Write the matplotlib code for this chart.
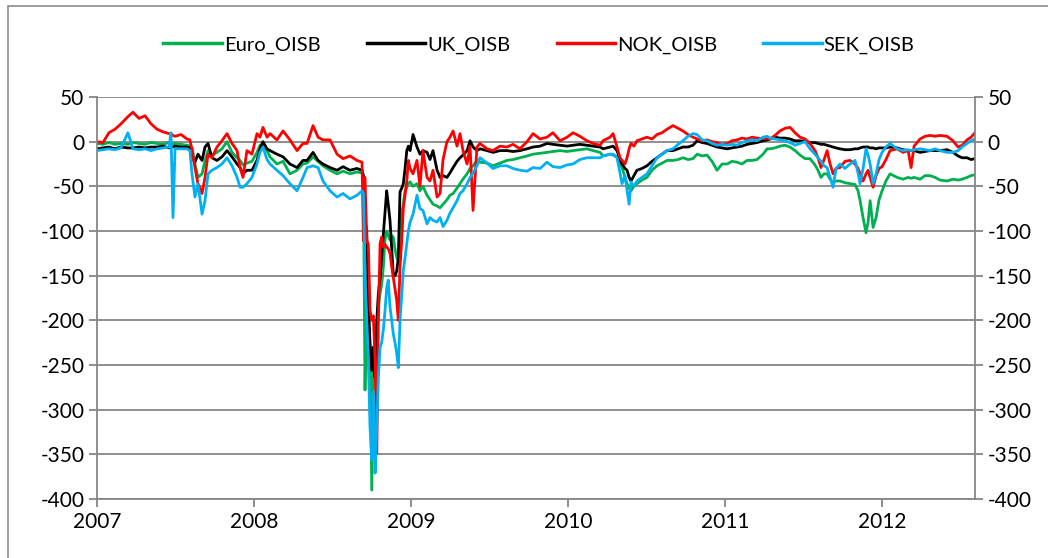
import matplotlib
matplotlib.use("Agg")
import matplotlib.pyplot as plt
from matplotlib.patches import Rectangle

# ---------------- data (fractional years, basis points) ----------------
dates = [
    2007.000, 2007.038, 2007.076, 2007.115, 2007.153, 2007.197, 2007.229, 2007.268, 2007.306, 2007.344,
    2007.382, 2007.420, 2007.459, 2007.471, 2007.484, 2007.497, 2007.535, 2007.573, 2007.592, 2007.605,
    2007.624, 2007.643, 2007.669, 2007.688, 2007.707, 2007.732, 2007.764, 2007.796, 2007.828, 2007.860,
    2007.892, 2007.911, 2007.930, 2007.955, 2007.987, 2008.019, 2008.038, 2008.057, 2008.083, 2008.102,
    2008.146, 2008.185, 2008.229, 2008.274, 2008.312, 2008.338, 2008.376, 2008.408, 2008.439, 2008.484,
    2008.529, 2008.567, 2008.611, 2008.656, 2008.688, 2008.697, 2008.707, 2008.718, 2008.728, 2008.739,
    2008.750, 2008.760, 2008.771, 2008.782, 2008.792, 2008.803, 2008.813, 2008.824, 2008.834, 2008.845,
    2008.855, 2008.866, 2008.877, 2008.887, 2008.898, 2008.909, 2008.919, 2008.930, 2008.941, 2008.951,
    2008.962, 2008.973, 2008.983, 2008.994, 2009.013, 2009.038, 2009.057, 2009.076, 2009.102, 2009.121,
    2009.140, 2009.166, 2009.185, 2009.204, 2009.229, 2009.248, 2009.268, 2009.293, 2009.312, 2009.331,
    2009.357, 2009.376, 2009.395, 2009.420, 2009.439, 2009.484, 2009.522, 2009.567, 2009.611, 2009.650,
    2009.694, 2009.739, 2009.777, 2009.822, 2009.866, 2009.904, 2009.949, 2009.994, 2010.032, 2010.076,
    2010.121, 2010.159, 2010.204, 2010.223, 2010.268, 2010.287, 2010.312, 2010.331, 2010.344, 2010.363,
    2010.376, 2010.389, 2010.401, 2010.420, 2010.439, 2010.471, 2010.503, 2010.535, 2010.567, 2010.599,
    2010.631, 2010.669, 2010.701, 2010.732, 2010.764, 2010.796, 2010.822, 2010.854, 2010.885, 2010.917,
    2010.949, 2010.981, 2011.013, 2011.045, 2011.076, 2011.108, 2011.140, 2011.172, 2011.204, 2011.242,
    2011.268, 2011.287, 2011.318, 2011.350, 2011.382, 2011.414, 2011.446, 2011.478, 2011.510, 2011.541,
    2011.573, 2011.592, 2011.611, 2011.631, 2011.650, 2011.669, 2011.688, 2011.707, 2011.732, 2011.764,
    2011.796, 2011.828, 2011.847, 2011.860, 2011.879, 2011.898, 2011.911, 2011.924, 2011.943, 2011.962,
    2011.981, 2012.000, 2012.025, 2012.051, 2012.096, 2012.134, 2012.166, 2012.185, 2012.204, 2012.242,
    2012.274, 2012.306, 2012.338, 2012.369, 2012.414, 2012.452, 2012.484, 2012.510, 2012.541, 2012.567,
    2012.592,
]

euro_oisb = [
    -2, -3, -1, -3, -2, -3, -1, -2, -3, -1,
    -2, -3, -1, -3, -3, -2, -3, -4, -5, -6,
    -25, -40, -36, -21, -10, -15, -12, -8, 0, -12,
    -18, -21, -26, -24, -22, -12, -4, -3, -10, -17,
    -25, -22, -36, -32, -25, -24, -17, -22, -27, -32,
    -36, -33, -36, -34, -35, -40, -278, -150, -200, -230,
    -390, -250, -260, -220, -186, -170, -160, -140, -110, -100,
    -105, -110, -105, -107, -120, -130, -133, -110, -80, -70,
    -55, -51, -47, -45, -50, -47, -55, -50, -60, -65,
    -70, -72, -74, -70, -65, -60, -58, -52, -47, -42,
    -36, -30, -27, -21, -23, -24, -27, -24, -21, -20,
    -18, -16, -14, -13, -12, -11, -10, -11, -10, -9,
    -8, -10, -12, -16, -14, -15, -17, -25, -29, -40,
    -47, -52, -55, -50, -47, -43, -40, -32, -27, -24,
    -21, -21, -20, -18, -20, -19, -14, -16, -15, -22,
    -32, -25, -25, -22, -23, -25, -21, -21, -20, -14,
    -8, -8, -7, -5, -4, -6, -10, -15, -19, -19,
    -26, -32, -40, -36, -36, -42, -46, -44, -44, -46,
    -47, -48, -55, -66, -85, -102, -90, -66, -96, -85,
    -65, -55, -44, -36, -40, -42, -40, -41, -40, -42,
    -38, -38, -40, -43, -44, -42, -43, -42, -40, -38,
    -37,
]

uk_oisb = [
    -8, -7, -6, -8, -6, -7, -7, -6, -7, -6,
    -6, -5, -7, -6, -6, -5, -6, -6, -7, -18,
    -23, -14, -21, -6, -2, -18, -21, -17, -10, -17,
    -25, -29, -36, -32, -32, -21, -8, 0, -8, -10,
    -14, -17, -25, -29, -21, -21, -12, -21, -25, -29,
    -32, -28, -32, -30, -32, -38, -88, -100, -178, -226,
    -256, -230, -264, -200, -170, -152, -128, -103, -80, -55,
    -70, -88, -120, -148, -150, -145, -130, -56, -52, -47,
    -30, -10, -5, -10, 8, -6, -14, -10, -12, -20,
    -10, -32, -40, -38, -40, -35, -29, -22, -18, -15,
    -10, 1, -6, -10, -8, -10, -12, -10, -10, -11,
    -10, -8, -6, -5, -2, -3, -4, -5, -4, -3,
    -4, -5, -6, -8, -6, -5, -10, -20, -25, -30,
    -32, -40, -44, -38, -32, -30, -27, -22, -18, -14,
    -10, -10, -8, -6, -6, -4, 1, -1, -2, -4,
    -6, -7, -8, -7, -6, -5, -3, -2, -1, 1,
    2, 3, 5, 4, 4, 3, 1, 1, 0, -1,
    -1, -2, -3, -3, -4, -5, -6, -7, -8, -9,
    -9, -8, -8, -7, -6, -6, -6, -7, -7, -8,
    -7, -7, -7, -6, -7, -9, -10, -10, -10, -12,
    -11, -10, -10, -10, -9, -12, -16, -18, -18, -20,
    -19,
]

nok_oisb = [
    0, -1, 10, 14, 20, 28, 33, 26, 29, 20,
    14, 11, 9, 9, 7, 6, 8, 3, 2, -10,
    -29, -47, -58, -40, -14, -18, -6, 1, 9, -2,
    -10, -29, -40, -10, -14, 9, 5, 16, 5, 9,
    2, 12, 2, -10, -2, -2, 18, 5, 2, 2,
    -14, -19, -16, -21, -23, -111, -40, -111, -115, -189,
    -200, -195, -245, -349, -200, -114, -107, -118, -115, -118,
    -120, -125, -140, -152, -165, -178, -200, -140, -110, -74,
    -60, -44, -21, -30, -36, -21, -50, -10, -40, -44,
    -32, -62, -58, -20, 0, 5, 12, -5, 9, -10,
    -25, -5, -77, -6, -2, -8, -10, -5, -6, -3,
    -8, 0, 9, 3, 5, 10, 1, 5, 10, 6,
    1, -2, -4, 1, 5, 9, -6, -18, -21, -25,
    -18, -8, -2, -5, 1, 3, 5, 3, 8, 10,
    14, 18, 15, 12, 8, 5, 3, 1, 2, 0,
    -1, -3, -2, 1, 2, 4, 3, 5, 4, 3,
    4, 3, 7, 12, 15, 16, 10, 5, 3, -2,
    -10, -18, -29, -20, -10, -25, -36, -30, -29, -22,
    -21, -25, -30, -36, -44, -36, -32, -40, -51, -38,
    -30, -28, -20, -10, -8, -12, -10, -29, -5, 3,
    6, 7, 6, 7, 6, 1, -6, -4, 2, 5,
    10,
]

sek_oisb = [
    -10, -9, -8, -9, -7, 10, -8, -9, -8, -10,
    -8, -7, -6, 10, -85, -8, -8, -8, -10, -36,
    -62, -47, -81, -66, -36, -32, -29, -25, -18, -27,
    -40, -51, -51, -47, -40, -25, -12, -6, -20, -25,
    -32, -38, -47, -55, -40, -29, -27, -29, -44, -55,
    -62, -58, -64, -60, -55, -58, -149, -200, -245, -320,
    -356, -280, -371, -320, -264, -230, -225, -210, -190, -164,
    -155, -185, -200, -215, -225, -237, -253, -200, -170, -144,
    -130, -114, -100, -90, -81, -60, -75, -77, -92, -85,
    -88, -90, -85, -95, -88, -80, -74, -66, -58, -55,
    -47, -40, -35, -27, -18, -24, -30, -27, -27, -30,
    -32, -33, -29, -30, -23, -28, -29, -26, -25, -20,
    -18, -18, -18, -16, -14, -14, -18, -35, -47, -38,
    -55, -70, -45, -50, -44, -40, -36, -27, -18, -14,
    -10, -8, -3, 1, 6, 9, 8, 2, 1, -2,
    -4, -3, -4, -3, -4, -1, 1, 2, 1, 5,
    6, 4, 3, 2, 1, -1, -4, -2, 0, -8,
    -14, -18, -22, -27, -29, -40, -51, -30, -25, -30,
    -25, -21, -35, -47, -30, -8, -15, -25, -47, -36,
    -20, -12, -6, -2, -8, -10, -9, -10, -9, -8,
    -9, -10, -8, -10, -12, -12, -10, -6, -2, 1,
    3,
]

series_names = ["Euro_OISB", "UK_OISB", "NOK_OISB", "SEK_OISB"]
series_values = [euro_oisb, uk_oisb, nok_oisb, sek_oisb]
series_colors = ["#00B050", "#000000", "#FF0000", "#00B0F0"]

year_ticks = [2007, 2008, 2009, 2010, 2011, 2012]
y_ticks = [50, 0, -50, -100, -150, -200, -250, -300, -350, -400]

# ---------------- figure ----------------
plt.rcParams['font.family'] = ['Lato', 'DejaVu Sans']
fig = plt.figure(figsize=(10.48, 5.58), dpi=100)
fig.patch.set_facecolor("white")
fig.add_artist(Rectangle((8 / 1048, -0.01), 1.2, 1 - 6 / 558 + 0.01, transform=fig.transFigure,
                         fill=False, edgecolor="#8c8c8c", linewidth=1.2))

ax = fig.add_axes([97 / 1048, 1 - 499 / 558, (975 - 97) / 1048, (499 - 97) / 558])

for name, vals, col in zip(series_names, series_values, series_colors):
    ax.plot(dates, vals, color=col, linewidth=2.0, label=name, solid_joinstyle="round")

ax.set_xlim(2007, 2012.592)
ax.set_ylim(-400, 50)
ax.set_xticks(year_ticks)
ax.set_xticklabels([str(y) for y in year_ticks])
ax.set_yticks(y_ticks)
ax.set_yticklabels([str(v) for v in y_ticks])

grid_col = "#868686"
for v in y_ticks:
    ax.axhline(v, color=grid_col, linewidth=1.3, zorder=0)
ax.spines["top"].set_visible(False)
for side in ["left", "right", "bottom"]:
    ax.spines[side].set_color(grid_col)
    ax.spines[side].set_linewidth(1.3)

ax.tick_params(axis="both", labelsize=15, colors="black", color=grid_col,
               length=6, width=1.3, direction="out", pad=3)
ax.tick_params(axis="y", right=True, labelright=True, left=True, labelleft=True)

leg = fig.legend(loc="center", bbox_to_anchor=(539 / 1048, 1 - 45 / 558), ncol=4,
                 frameon=False, fontsize=14.5, handlelength=2.9, handletextpad=0.1,
                 columnspacing=2.3)
for line in leg.get_lines():
    line.set_linewidth(2.5)

fig.savefig("out.png", dpi=100, facecolor="white")
